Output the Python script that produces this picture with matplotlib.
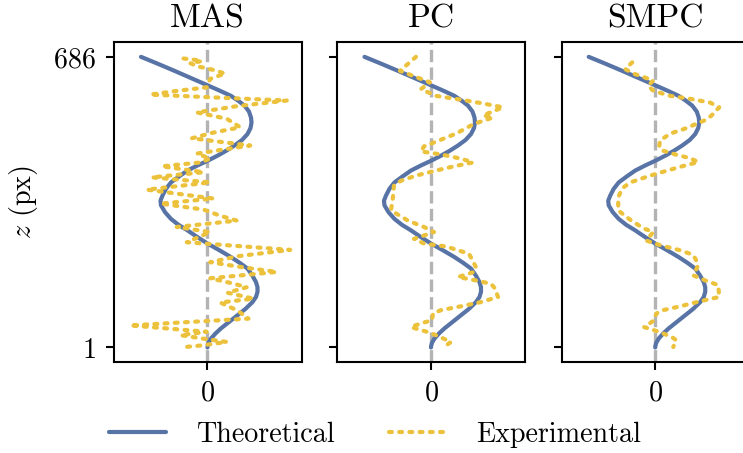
# Theoretical vs experimental displacement profiles for three methods
import matplotlib.pyplot as plt

plt.rcParams['font.family'] = 'serif'
plt.rcParams['font.serif'] = ['cmr10']
plt.rcParams['mathtext.fontset'] = 'cm'
plt.rcParams['axes.formatter.use_mathtext'] = True
plt.rcParams['font.size'] = 13.5

# Panel titles
methods = ['MAS', 'PC', 'SMPC']

# Theoretical curve (shared by all panels)
theory_z = [686, 670, 653, 636, 619, 606, 594, 582, 571, 557, 543, 531, 518, 504,
            490, 477, 465, 453, 441, 430, 418, 404, 390, 375, 359, 347, 336, 320,
            304, 290, 277, 261, 246, 230, 214, 200, 187, 170, 155, 143, 132, 120,
            108, 92, 77, 61, 46, 34, 22, 12, 5, 1]
theory_x = [-66.5, -50, -33, -16.5, 0, 12.5, 23.5, 31, 37, 41.5, 43.5, 44, 43, 40,
            34.5, 27, 19, 10, 0, -10, -20, -28.5, -36.5, -41.5, -45, -47, -46.5, -42.5,
            -36.5, -29, -20, -10, 0, 12, 23.5, 32.5, 40, 45, 48.5, 50, 50, 48.5,
            45, 38, 30, 21.5, 13.5, 8, 3.5, 1, 0.2, 0]

# Experimental curves
mas_z = [682, 680, 676, 671, 663, 659, 653, 646, 640, 634, 626, 614, 606, 597,
         590, 583, 570, 555, 540, 520, 507, 494, 477, 458, 446, 437, 428, 414,
         402, 390, 373, 352, 340, 326, 312, 300, 285, 273, 260, 249, 231, 216,
         202, 190, 179, 164, 152, 143, 130, 116, 107, 88, 69, 53, 38, 30, 22, 14, 6, 1]
mas_x = [-24, -15.7, -5.7, -17.3, -9, -0.7, 9.3, 17.7, 9.3, 2.7, 1, -0.7, -30, -57.3,
         10, 79.3, 30, -10.7, 19.3, 32.7, 5, -15.7, 42.7, -10.7, 2.7, -7.3, -45.7, -4,
         -55.7, 2.7, -60.7, 6, -47, -4, 12, 29.3, -30.7, 2.7, -10, -20.7, 82.7, 30,
         2.7, 35, 69.3, 2.7, 25, 39.3, 20, 46, 12.7, 30, 41, -77.3, -0.7, -27, -5, 19.3, -5, -27]

pc_z = [686, 653, 634, 626, 610, 594, 585, 577, 567, 548, 543, 528, 505, 486, 475,
        463, 456, 446, 437, 429, 418, 406, 394, 383, 355, 324, 300, 285, 273, 257,
        246, 239, 222, 190, 179, 167, 159, 151, 140, 120, 108, 98, 89, 81, 65, 58,
        49, 35, 14, 2]
pc_x = [-15, -31, -10, -1, -10, 5, 30, 50, 72, 52, 62, 43, 25, 5, -7,
        -10, 10, 30, 42, 25, 5, -15, -30, -37, -38, -40, -23, -7, 3, -17,
        -7, 15, 38, 45, 43, 27, 45, 60, 64, 67, 50, 30, 10, 2, 1, -10,
        -20, 0, 20, 13]

smpc_z = [673, 657, 645, 637, 630, 618, 606, 594, 587, 578, 567, 547, 536, 517, 505,
          489, 477, 466, 456, 447, 438, 430, 418, 406, 390, 376, 355, 324, 300, 281,
          273, 253, 242, 230, 220, 211, 195, 171, 159, 148, 120, 110, 98, 89, 81,
          65, 49, 37, 25, 18, 2]
smpc_x = [-23, -30, -20, -10, -2, -7, -2, 15, 35, 55, 64, 56, 49, 30, 15,
          5, 4, 6, 20, 35, 43, 30, 12, -5, -25, -33, -37, -37, -24, -11,
          -2, -9, 5, 25, 37, 40, 43, 38, 50, 63, 64, 45, 25, 8, 1,
          -1, -11, 5, 17, 21, 18]

experiments = [(mas_x, mas_z), (pc_x, pc_z), (smpc_x, smpc_z)]

blue = '#5874a6'
yellow = '#ECC23C'
gray = '#b3b3b3'

fig = plt.figure(figsize=(743 / 150, 453 / 150), dpi=150)

lefts = [0.1534, 0.4542, 0.756]
axes = []
for i, name in enumerate(methods):
    ax = fig.add_axes([lefts[i], 0.2009, 0.2524, 0.7057])
    axes.append(ax)

    ax.axvline(0, color=gray, lw=1.6, ls='--', zorder=1)
    ax.plot(theory_x, theory_z, color=blue, lw=2.0, zorder=2,
            solid_capstyle='round', label='Theoretical')
    ex, ez = experiments[i]
    ax.plot(ex, ez, color=yellow, lw=2.0, ls=(0, (0.7, 1.75)),
            dash_capstyle='round', zorder=3, label='Experimental')

    ax.set_xlim(-93.5, 94)
    ax.set_ylim(-33.25, 720.25)
    ax.set_xticks([0])
    ax.set_yticks([1, 686])
    ax.set_title(name, pad=7)
    ax.tick_params(direction='out', length=3.8, width=1.0, pad=5)
    for s in ax.spines.values():
        s.set_linewidth(1.0)
    if i == 0:
        ax.set_ylabel('$z$ (px)', labelpad=6)
    else:
        ax.tick_params(labelleft=False)

handles, labels = axes[0].get_legend_handles_labels()
fig.legend(handles, labels, loc='center', bbox_to_anchor=(0.505, 0.04),
           ncol=2, frameon=False, handlelength=2.0, handletextpad=1.1,
           columnspacing=1.9)

fig.savefig('out.png', dpi=150)
